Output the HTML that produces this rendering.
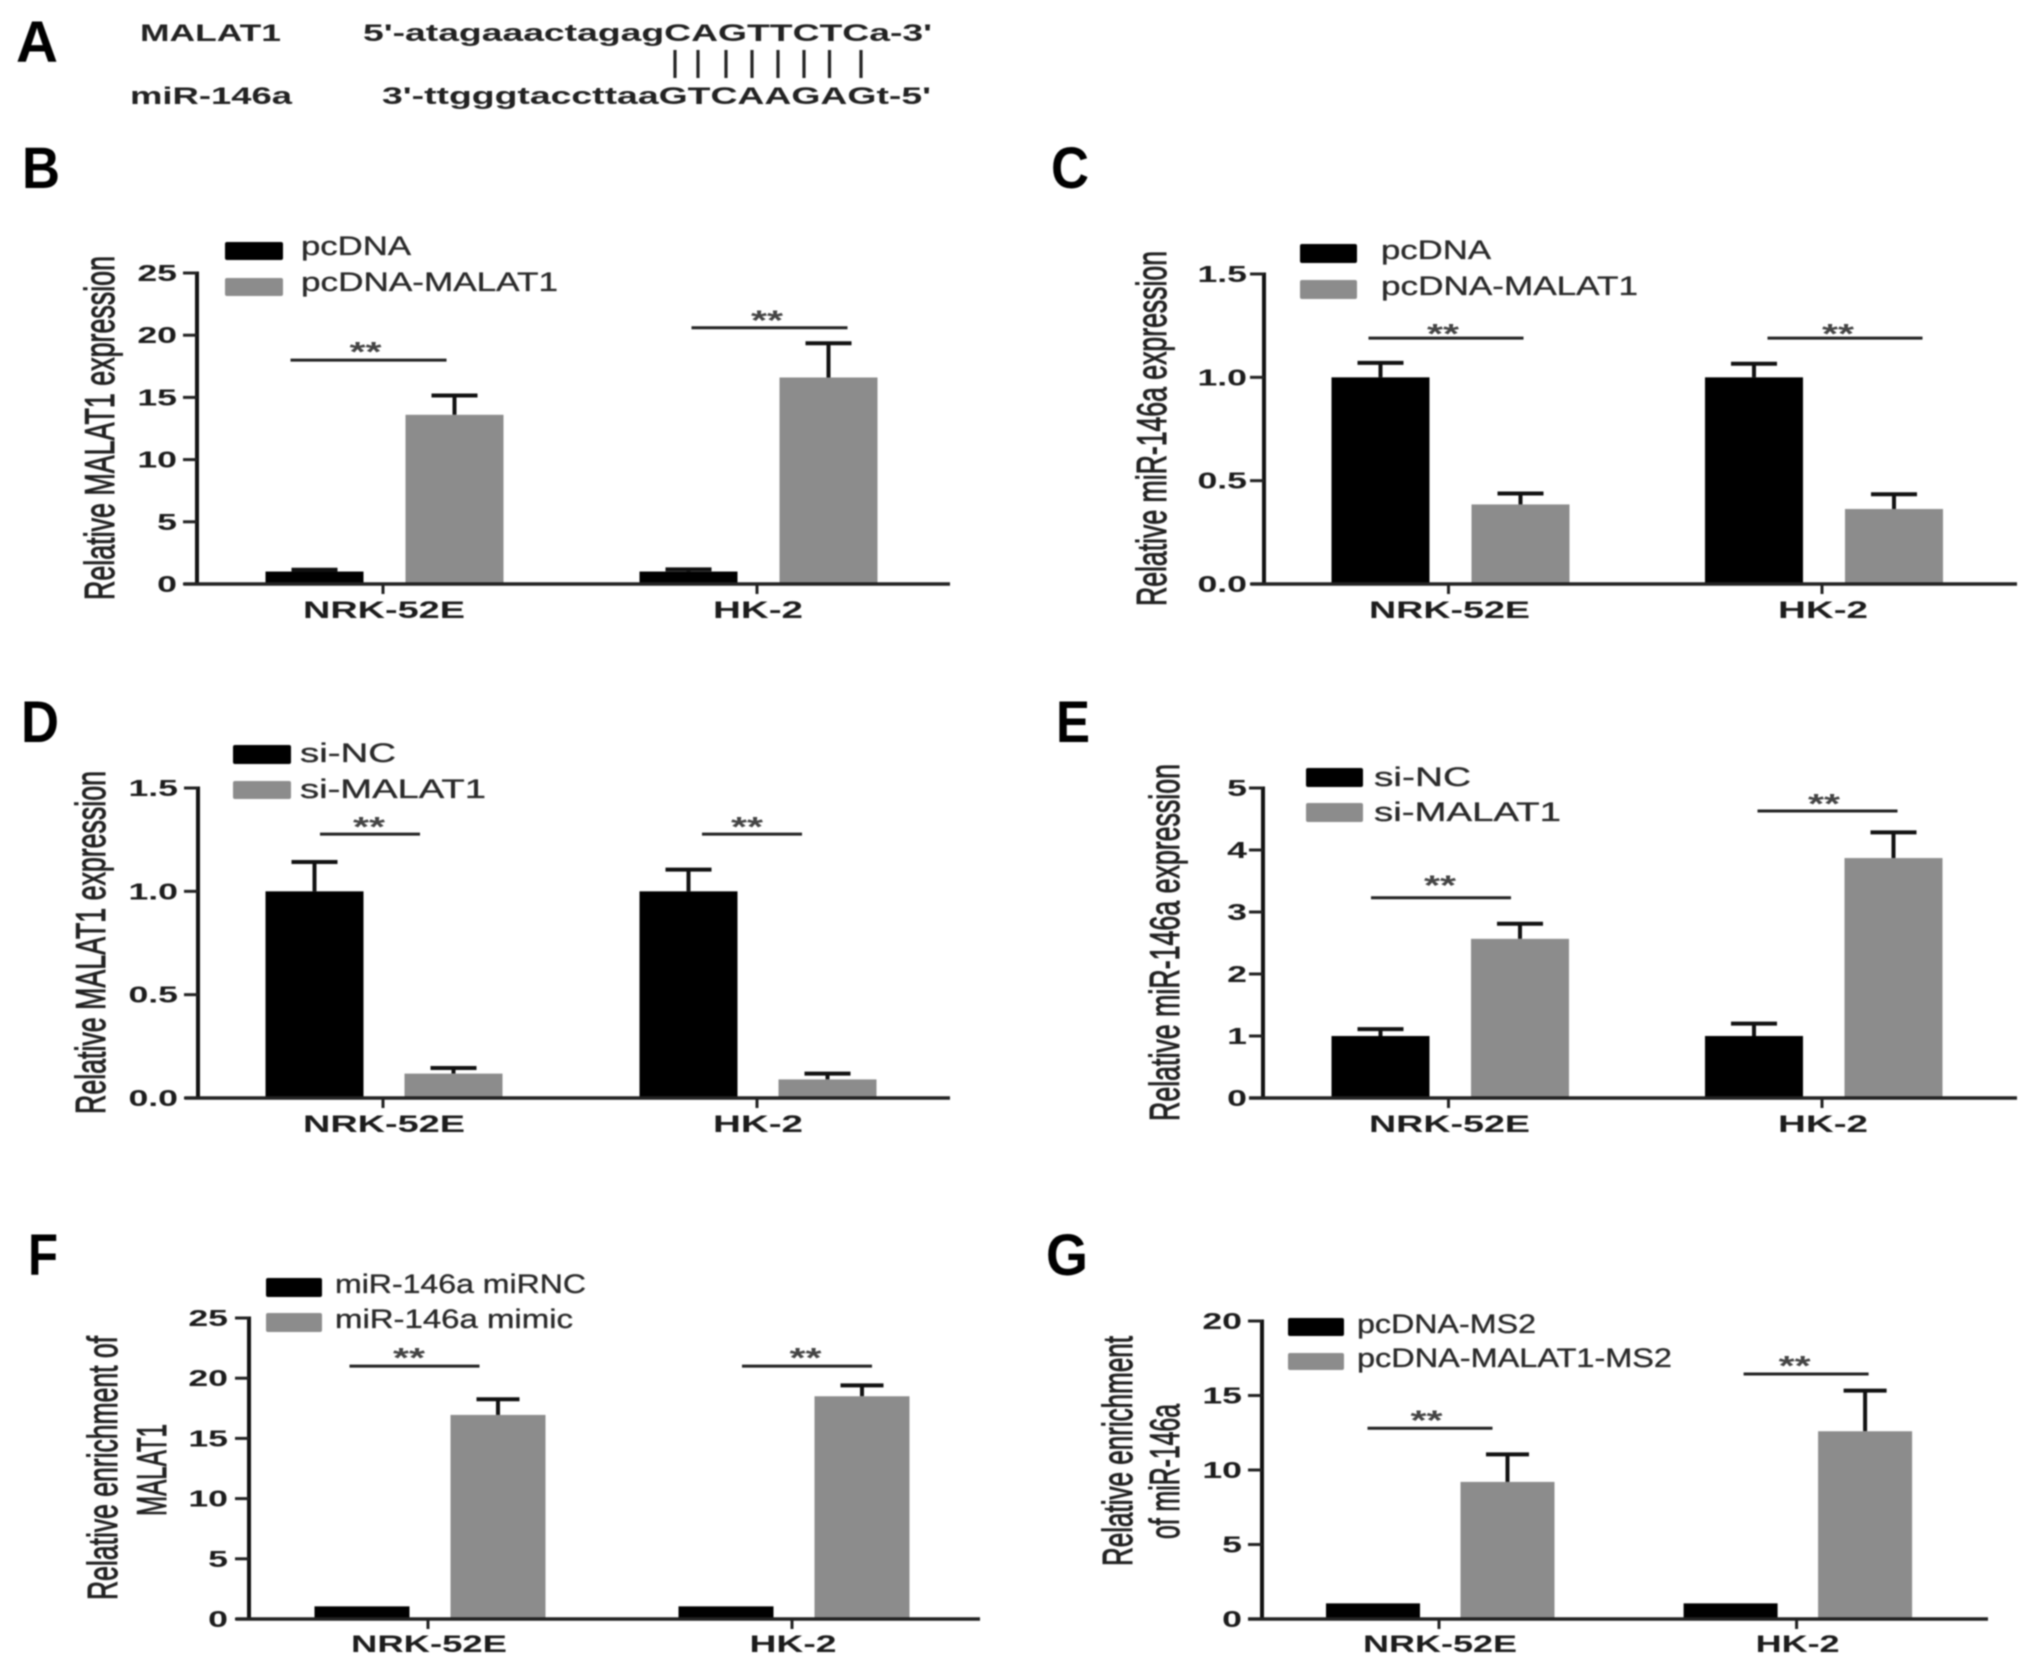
<!DOCTYPE html>
<html lang="en">
<head>
<meta charset="utf-8">
<title>MALAT1 and miR-146a figure</title>
<style>
html,body{margin:0;padding:0;background:#fff;width:2031px;height:1675px;overflow:hidden}
svg{display:block;filter:blur(0.8px)}
text{font-family:"Liberation Sans",sans-serif;fill:#1c1c1c}
.letter{font-size:58px;font-weight:700;fill:#000}
.seq{font-size:24px;font-weight:700;fill:#222}
.legend{font-size:27px;fill:#2a2a2a;stroke:#2a2a2a;stroke-width:0.35px}
.ytitle{font-size:42px;fill:#222;stroke:#222;stroke-width:1px}
.tick{font-size:23px;font-weight:700}
.cat{font-size:24px;font-weight:700}
.star{font-size:28px;font-weight:700;fill:#444}
</style>
</head>
<body>
<svg id="figure" xmlns="http://www.w3.org/2000/svg" width="2031" height="1675" viewBox="0 0 2031 1675">
<rect width="2031" height="1675" fill="#fff"/>

<g>
  <text class="letter" x="16" y="62" textLength="42" lengthAdjust="spacingAndGlyphs">A</text>
  <text class="seq" x="140" y="41" textLength="141" lengthAdjust="spacingAndGlyphs">MALAT1</text>
  <text class="seq" x="130" y="104" textLength="162" lengthAdjust="spacingAndGlyphs">miR-146a</text>
  <text class="seq" x="363" y="41" textLength="569" lengthAdjust="spacingAndGlyphs">5'-atagaaactagagCAGTTCTCa-3'</text>
  <text class="seq" x="382" y="104" textLength="549" lengthAdjust="spacingAndGlyphs">3'-ttgggtaccttaaGTCAAGAGt-5'</text>
  <g stroke="#222" stroke-width="3.2">
    <line x1="675" x2="675" y1="50" y2="78"/><line x1="698" x2="698" y1="50" y2="78"/>
    <line x1="726" x2="726" y1="50" y2="78"/><line x1="752" x2="752" y1="50" y2="78"/>
    <line x1="778" x2="778" y1="50" y2="78"/><line x1="804" x2="804" y1="50" y2="78"/>
    <line x1="829.5" x2="829.5" y1="50" y2="78"/><line x1="861" x2="861" y1="50" y2="78"/>
  </g>
</g>

<g id="panel-b">
  <text class="letter" x="22" y="188" textLength="38" lengthAdjust="spacingAndGlyphs">B</text>
  <text class="ytitle" transform="rotate(-90 114 600)" x="114" y="600" textLength="344" lengthAdjust="spacingAndGlyphs">Relative MALAT1 expression</text>
  <rect x="225" y="242" width="58" height="18" rx="2" fill="#000"/>
  <rect x="225" y="278" width="58" height="18" rx="2" fill="#8c8c8c"/>
  <text class="legend" x="301" y="255" textLength="110" lengthAdjust="spacingAndGlyphs">pcDNA</text>
  <text class="legend" x="301" y="291" textLength="257" lengthAdjust="spacingAndGlyphs">pcDNA-MALAT1</text>
</g>

<g id="panel-c">
  <text class="letter" x="1051" y="188" textLength="38" lengthAdjust="spacingAndGlyphs">C</text>
  <text class="ytitle" transform="rotate(-90 1166 606)" x="1166" y="606" textLength="355" lengthAdjust="spacingAndGlyphs">Relative miR-146a expression</text>
  <rect x="1300" y="244" width="57" height="19" rx="2" fill="#000"/>
  <rect x="1300" y="280" width="57" height="19" rx="2" fill="#8c8c8c"/>
  <text class="legend" x="1381" y="259" textLength="110" lengthAdjust="spacingAndGlyphs">pcDNA</text>
  <text class="legend" x="1381" y="295" textLength="257" lengthAdjust="spacingAndGlyphs">pcDNA-MALAT1</text>
</g>

<g id="panel-d">
  <text class="letter" x="21" y="742" textLength="38" lengthAdjust="spacingAndGlyphs">D</text>
  <text class="ytitle" transform="rotate(-90 105 1114)" x="105" y="1114" textLength="343" lengthAdjust="spacingAndGlyphs">Relative MALAT1 expression</text>
  <rect x="233" y="745" width="58" height="19" rx="2" fill="#000"/>
  <rect x="233" y="781" width="58" height="18" rx="2" fill="#8c8c8c"/>
  <text class="legend" x="300" y="762" textLength="96" lengthAdjust="spacingAndGlyphs">si-NC</text>
  <text class="legend" x="300" y="798" textLength="186" lengthAdjust="spacingAndGlyphs">si-MALAT1</text>
</g>

<g id="panel-e">
  <text class="letter" x="1056" y="742" textLength="34" lengthAdjust="spacingAndGlyphs">E</text>
  <text class="ytitle" transform="rotate(-90 1179 1121)" x="1179" y="1121" textLength="357" lengthAdjust="spacingAndGlyphs">Relative miR-146a expression</text>
  <rect x="1306" y="768" width="57" height="19" rx="2" fill="#000"/>
  <rect x="1306" y="803" width="57" height="19" rx="2" fill="#8c8c8c"/>
  <text class="legend" x="1374" y="786" textLength="97" lengthAdjust="spacingAndGlyphs">si-NC</text>
  <text class="legend" x="1374" y="821" textLength="187" lengthAdjust="spacingAndGlyphs">si-MALAT1</text>
</g>

<g id="panel-f">
  <text class="letter" x="28" y="1275" textLength="30" lengthAdjust="spacingAndGlyphs">F</text>
  <text class="ytitle" transform="rotate(-90 117 1600)" x="117" y="1600" textLength="264" lengthAdjust="spacingAndGlyphs">Relative enrichment of</text>
  <text class="ytitle" transform="rotate(-90 166 1516)" x="166" y="1516" textLength="92" lengthAdjust="spacingAndGlyphs">MALAT1</text>
  <rect x="266" y="1278" width="56" height="19" rx="2" fill="#000"/>
  <rect x="266" y="1313" width="56" height="19" rx="2" fill="#8c8c8c"/>
  <text class="legend" x="335" y="1293" textLength="251" lengthAdjust="spacingAndGlyphs">miR-146a miRNC</text>
  <text class="legend" x="335" y="1328" textLength="238" lengthAdjust="spacingAndGlyphs">miR-146a mimic</text>
</g>

<g id="panel-g">
  <text class="letter" x="1046" y="1275" textLength="42" lengthAdjust="spacingAndGlyphs">G</text>
  <text class="ytitle" transform="rotate(-90 1132 1566)" x="1132" y="1566" textLength="230" lengthAdjust="spacingAndGlyphs">Relative enrichment</text>
  <text class="ytitle" transform="rotate(-90 1179 1539)" x="1179" y="1539" textLength="135" lengthAdjust="spacingAndGlyphs">of miR-146a</text>
  <rect x="1288" y="1318" width="56" height="18" rx="2" fill="#000"/>
  <rect x="1288" y="1353" width="56" height="17" rx="2" fill="#8c8c8c"/>
  <text class="legend" x="1357" y="1333" textLength="179" lengthAdjust="spacingAndGlyphs">pcDNA-MS2</text>
  <text class="legend" x="1357" y="1367" textLength="315" lengthAdjust="spacingAndGlyphs">pcDNA-MALAT1-MS2</text>
</g>
</svg>

<script>
// Shared category labels
const categories = ['NRK-52E', 'HK-2'];
const sigLabels = ['**', '**'];

// Panel B data
const bTicks = ['0', '5', '10', '15', '20', '25'];
const bControl = [1.0, 1.0];
const bControlErr = [1.15, 1.18];
const bTreated = [13.6, 16.6];
const bTreatedErr = [15.15, 19.35];
const bSig = [18.0, 20.6];

// Panel C data
const cTicks = ['0.0', '0.5', '1.0', '1.5'];
const cControl = [1.0, 1.0];
const cControlErr = [1.07, 1.066];
const cTreated = [0.385, 0.363];
const cTreatedErr = [0.438, 0.434];
const cSig = [1.19, 1.19];

// Panel D data
const dTicks = ['0.0', '0.5', '1.0', '1.5'];
const dControl = [1.0, 1.0];
const dControlErr = [1.142, 1.105];
const dTreated = [0.118, 0.09];
const dTreatedErr = [0.145, 0.118];
const dSig = [1.277, 1.277];

// Panel E data
const eTicks = ['0', '1', '2', '3', '4', '5'];
const eControl = [1.0, 1.0];
const eControlErr = [1.11, 1.2];
const eTreated = [2.567, 3.87];
const eTreatedErr = [2.81, 4.285];
const eSig = [3.23, 4.63];

// Panel F data
const fTicks = ['0', '5', '10', '15', '20', '25'];
const fControl = [1.05, 1.05];
const fControlErr = [1.05, 1.05];
const fTreated = [16.95, 18.5];
const fTreatedErr = [18.25, 19.4];
const fSig = [21.0, 21.0];

// Panel G data
const gTicks = ['0', '5', '10', '15', '20'];
const gControl = [1.05, 1.05];
const gControlErr = [1.05, 1.05];
const gTreated = [9.2, 12.6];
const gTreatedErr = [11.05, 15.33];
const gSig = [12.8, 16.44];

const SVG_NS = 'http://www.w3.org/2000/svg';

function add(parent, tag, attrs, content) {
  const node = document.createElementNS(SVG_NS, tag);
  for (const key in attrs) node.setAttribute(key, attrs[key]);
  if (content !== undefined) node.textContent = content;
  parent.appendChild(node);
  return node;
}

function drawPanel(cfg) {
  const root = document.getElementById(cfg.id);
  const tickValues = cfg.ticks.map(parseFloat);
  const yMax = Math.max.apply(null, tickValues);
  const yScale = function (v) { return cfg.y0 - (v / yMax) * (cfg.y0 - cfg.yTop); };
  const xScale = function (i) { return cfg.x0 + i * cfg.step; };

  const seriesList = [
    { key: 'control', values: cfg.control, errs: cfg.controlErr, fill: '#000', dx: cfg.dxControl },
    { key: 'treated', values: cfg.treated, errs: cfg.treatedErr, fill: '#8c8c8c', dx: cfg.dxTreated }
  ];

  seriesList.forEach(function (series) {
    series.values.forEach(function (value, i) {
      const cx = xScale(i) + series.dx;
      const errValue = series.errs[i];
      if (errValue > value) {
        const stem = add(root, 'line', { x1: cx, x2: cx, y1: yScale(value), y2: yScale(errValue), stroke: '#111', 'stroke-width': 4 });
        
        
        const cap = add(root, 'line', { x1: cx - cfg.capHalf, x2: cx + cfg.capHalf, y1: yScale(errValue), y2: yScale(errValue), stroke: '#111', 'stroke-width': 4 });
        
        
      }
      const bar = add(root, 'rect', { x: cx - cfg.barWidth / 2, y: yScale(value), width: cfg.barWidth, height: cfg.y0 - yScale(value), fill: series.fill });
      
      
    });
  });

  const yAxis = add(root, 'line', { x1: cfg.axisX, x2: cfg.axisX, y1: cfg.yTop - 1.5, y2: cfg.y0 + 1.5, stroke: '#111', 'stroke-width': 4 });
  
  

  const xAxis = add(root, 'line', { x1: cfg.xStart, x2: cfg.xEnd, y1: cfg.y0, y2: cfg.y0, stroke: '#222', 'stroke-width': 3.5 });
  
  

  cfg.ticks.forEach(function (label) {
    const y = yScale(parseFloat(label));
    const mark = add(root, 'line', { x1: cfg.axisX - 14, x2: cfg.axisX, y1: y, y2: y, stroke: '#222', 'stroke-width': 3 });
    
    
    const txt = add(root, 'text', { class: 'tick', 'text-anchor': 'end', transform: 'translate(' + cfg.tickRight + ',' + (y + 8) + ') scale(1.55,1)' }, label);
    
    
  });

  categories.forEach(function (name, i) {
    const x = xScale(i);
    const mark = add(root, 'line', { x1: x, x2: x, y1: cfg.y0, y2: cfg.y0 + 10, stroke: '#222', 'stroke-width': 3 });
    
    
    const txt = add(root, 'text', { class: 'cat', x: x + cfg.catShift - cfg.catWidths[i] / 2, y: cfg.catBase, textLength: cfg.catWidths[i], lengthAdjust: 'spacingAndGlyphs' }, name);
    
    
  });

  cfg.sig.forEach(function (value, i) {
    const cx = xScale(i) + cfg.sigDx[i];
    const y = yScale(value);
    const line = add(root, 'line', { x1: cx - cfg.sigHalf, x2: cx + cfg.sigHalf, y1: y, y2: y, stroke: '#222', 'stroke-width': 3 });
    
    
    const star = add(root, 'text', { class: 'star', x: xScale(i) + cfg.starDx[i] - 16, y: y + cfg.starDy[i] + 16, textLength: 32, lengthAdjust: 'spacingAndGlyphs' }, sigLabels[i]);
    
    
  });
}

drawPanel({
  id: 'panel-b', ticks: bTicks, control: bControl, controlErr: bControlErr, treated: bTreated, treatedErr: bTreatedErr, sig: bSig,
  y0: 584, yTop: 273, axisX: 197, xStart: 184, xEnd: 950, x0: 383, step: 374,
  dxControl: -68.5, dxTreated: 71.5, barWidth: 98, capHalf: 23, tickRight: 177,
  catWidths: [162, 90], catShift: 1, catBase: 618,
  sigDx: [-14.5, 12.5], sigHalf: 78, starDx: [-17.5, 10], starDy: [-15, -14]
});
drawPanel({
  id: 'panel-c', ticks: cTicks, control: cControl, controlErr: cControlErr, treated: cTreated, treatedErr: cTreatedErr, sig: cSig,
  y0: 584, yTop: 274, axisX: 1264, xStart: 1251, xEnd: 2017, x0: 1448.5, step: 373.5,
  dxControl: -68, dxTreated: 72, barWidth: 98, capHalf: 23, tickRight: 1247,
  catWidths: [161, 90], catShift: 1, catBase: 618,
  sigDx: [-2.5, 23], sigHalf: 77.5, starDx: [-5.5, 16], starDy: [-11, -11]
});
drawPanel({
  id: 'panel-d', ticks: dTicks, control: dControl, controlErr: dControlErr, treated: dTreated, treatedErr: dTreatedErr, sig: dSig,
  y0: 1098, yTop: 788, axisX: 198, xStart: 185, xEnd: 950, x0: 383, step: 374,
  dxControl: -68.5, dxTreated: 70.5, barWidth: 98, capHalf: 23, tickRight: 178,
  catWidths: [162, 90], catShift: 1, catBase: 1132,
  sigDx: [-13, -5], sigHalf: 50, starDx: [-14, -10], starDy: [-14, -14]
});
drawPanel({
  id: 'panel-e', ticks: eTicks, control: eControl, controlErr: eControlErr, treated: eTreated, treatedErr: eTreatedErr, sig: eSig,
  y0: 1098, yTop: 788, axisX: 1263, xStart: 1249, xEnd: 2017, x0: 1448.5, step: 373.5,
  dxControl: -68, dxTreated: 71.5, barWidth: 98, capHalf: 23, tickRight: 1247,
  catWidths: [161, 90], catShift: 1, catBase: 1132,
  sigDx: [-7.5, 5.5], sigHalf: 70, starDx: [-8.5, 2], starDy: [-19, -14]
});
drawPanel({
  id: 'panel-f', ticks: fTicks, control: fControl, controlErr: fControlErr, treated: fTreated, treatedErr: fTreatedErr, sig: fSig,
  y0: 1619, yTop: 1318, axisX: 249, xStart: 236, xEnd: 980, x0: 428, step: 364,
  dxControl: -66, dxTreated: 70, barWidth: 95, capHalf: 21.5, tickRight: 228,
  catWidths: [156, 87], catShift: 1, catBase: 1652,
  sigDx: [-13.5, 15], sigHalf: 65, starDx: [-19, 13.5], starDy: [-15, -15]
});
drawPanel({
  id: 'panel-g', ticks: gTicks, control: gControl, controlErr: gControlErr, treated: gTreated, treatedErr: gTreatedErr, sig: gSig,
  y0: 1619, yTop: 1321, axisX: 1262, xStart: 1248, xEnd: 1988, x0: 1439, step: 357.6,
  dxControl: -66, dxTreated: 68.5, barWidth: 94, capHalf: 21.5, tickRight: 1242,
  catWidths: [154, 84], catShift: 1, catBase: 1652,
  sigDx: [-9, 9.5], sigHalf: 62.5, starDx: [-12.5, -2], starDy: [-15, -15]
});
</script>
</body>
</html>
